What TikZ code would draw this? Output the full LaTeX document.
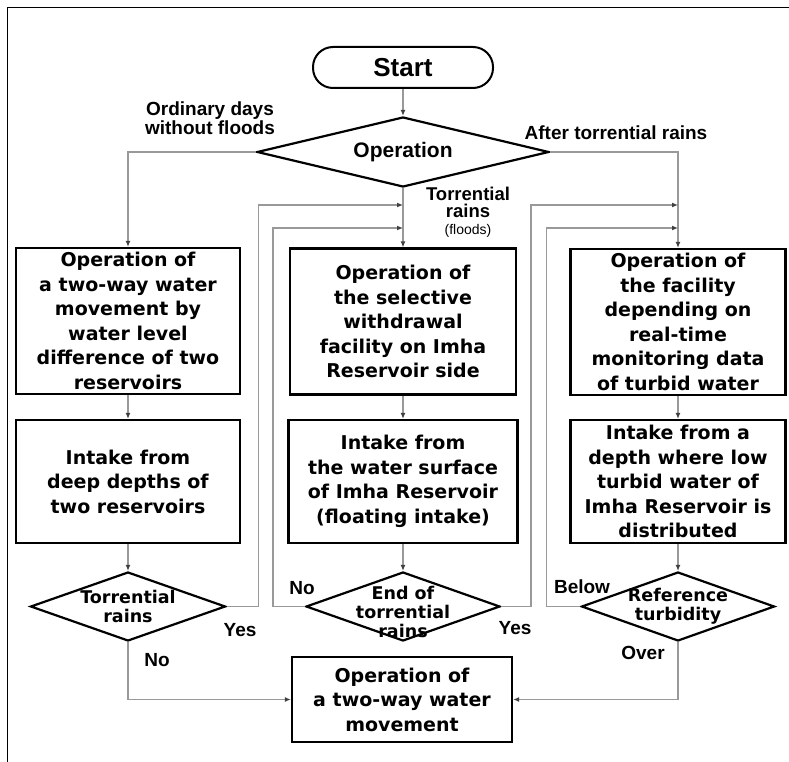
\documentclass[tikz,border=0pt]{standalone}
\usepackage{fontspec}
\setmainfont{DejaVu Sans}
\newfontfamily\lblfont{Liberation Sans}
\usetikzlibrary{arrows.meta,positioning,shapes.geometric,calc}

\begin{document}
\begin{tikzpicture}[x=1pt,y=-1pt,
  box/.style={draw,line width=2.2pt,minimum width=224pt,minimum height=146pt,align=center,inner sep=2pt,font=\bfseries\fontsize{19}{24.5}\selectfont},
  decision/.style={draw,diamond,line width=2.2pt,minimum width=195pt,minimum height=69pt,inner sep=0pt},
  dectext/.style={align=center,font=\bfseries\fontsize{17.5}{19}\selectfont},
  lbl/.style={align=center,inner sep=0pt,font=\lblfont\bfseries\fontsize{19}{19}\selectfont},
  flow/.style={draw=black!40,line width=1.5pt,-{Latex[length=6pt,width=5pt,color=black!75]}}]
\useasboundingbox (0,0) rectangle (789,762);
\draw[line width=1pt] (7,762) -- (7,8) -- (789,8);
% nodes
\node[draw,line width=2pt,rounded corners=20pt,minimum width=180pt,minimum height=41pt,font=\lblfont\bfseries\fontsize{26}{26}\selectfont] (start) at (403,67.5) {Start};
\node[decision,minimum width=292pt,minimum height=70pt,label={[lbl,font=\lblfont\bfseries\fontsize{21}{21}\selectfont]center:Operation}] (op) at (403,152) {};
\node[box] (L1) at (128,321) {Operation of\\a two-way water\\movement by\\water level\\difference of two\\reservoirs};
\node[box,minimum height=123pt] (L2) at (128,481.5) {Intake from\\deep depths of\\two reservoirs};
\node[box,minimum width=226pt] (C1) at (403,321.5) {Operation of\\the selective\\withdrawal\\facility on Imha\\Reservoir side};
\node[box,minimum width=229pt,minimum height=123pt] (C2) at (403,481.5) {Intake from\\the water surface\\of Imha Reservoir\\(floating intake)};
\node[box,minimum width=215pt] (R1) at (678,322) {Operation of\\the facility\\depending on\\real-time\\monitoring data\\of turbid water};
\node[box,minimum width=215pt,minimum height=123pt] (R2) at (678,481.5) {Intake from a\\depth where low\\turbid water of\\Imha Reservoir is\\distributed};
\node[decision,label={[dectext]center:{Torrential\\rains}}] (d1) at (128,606.5) {};
\node[decision,minimum width=194pt,label={[dectext,yshift=-5pt]center:{End of\\torrential\\rains}}] (d2) at (403,606.5) {};
\node[decision,minimum width=193pt,label={[dectext]center:{Reference\\turbidity}}] (d3) at (678,606.5) {};
\node[box,minimum width=220pt,minimum height=85pt] (B) at (402,699.5) {Operation of\\a two-way water\\movement};
% junctions on the vertical lines
\coordinate (jC1) at (403,205);
\coordinate (jC2) at (403,228);
\coordinate (jR1) at (678,205);
\coordinate (jR2) at (678,228);
% connectors
\draw[flow] (start) -- (op);
\draw[flow] (op.west) -| (L1.north);
\draw[flow] (op.east) -| (R1.north);
\draw[flow] (op.south) -- (C1.north);
\foreach \a/\b in {L1/L2,C1/C2,R1/R2} {\draw[flow] (\a.south) -- (\b.north);}
\foreach \a/\b in {L2/d1,C2/d2,R2/d3} {\draw[flow] (\a.south) -- (\b.north);}
\draw[flow] (d1.east) -- ++(32,0) |- (jC1);
\draw[flow] (d2.west) -- ++(-32,0) |- (jC2);
\draw[flow] (d2.east) -- ++(30,0) |- (jR1);
\draw[flow] (d3.west) -- ++(-34,0) |- (jR2);
\draw[flow] (d1.south) |- (B.west);
\draw[flow] (d3.south) |- (B.east);
% labels
\node[lbl] (lOrd) at (210,118) {Ordinary days\\without floods};
\node[lbl] (lAfter) at (616,133) {After torrential rains};
\node[lbl,font=\lblfont\bfseries\fontsize{18.5}{17}\selectfont] (lTorr) at (468,212) {Torrential\\rains\\{\fontsize{14}{14}\selectfont\mdseries (floods)}};
\node[lbl] (yes1) at (240,630) {Yes};
\node[lbl] (no1) at (157,660) {No};
\node[lbl] (no2) at (302,588) {No};
\node[lbl] (yes2) at (515,628) {Yes};
\node[lbl] (below) at (582,587) {Below};
\node[lbl] (over) at (643,653) {Over};
\end{tikzpicture}
\end{document}
